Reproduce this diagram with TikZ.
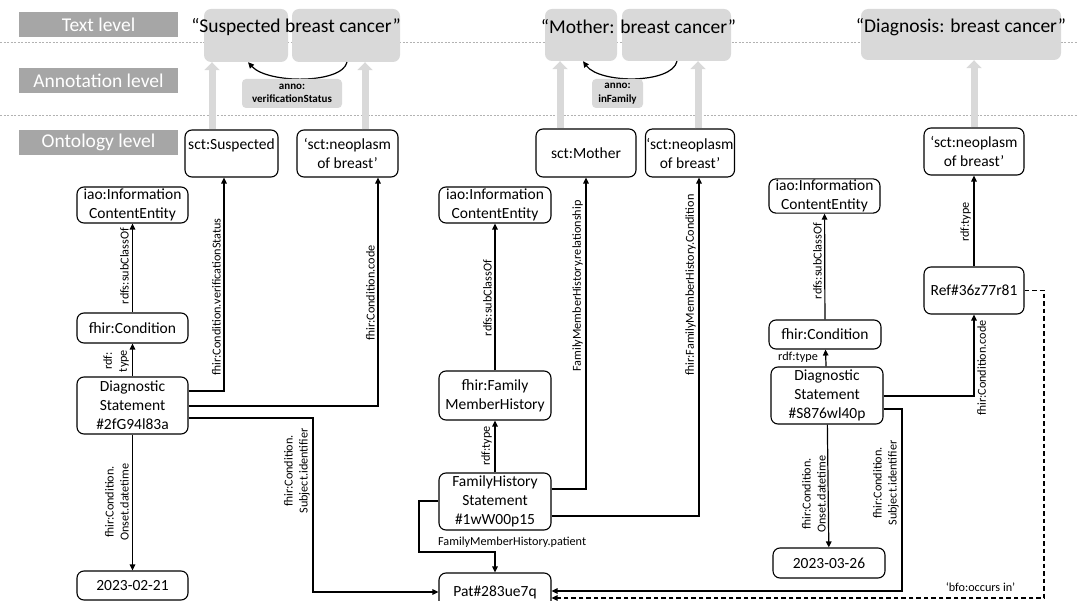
\documentclass[tikz,border=0pt]{standalone}
\usepackage{fontspec}
\setmainfont{Carlito}
\usetikzlibrary{arrows.meta,calc}

\definecolor{lvlgrey}{HTML}{A6A6A6}
\definecolor{txtgrey}{HTML}{D9D9D9}

\tikzset{
  obox/.style={draw, rounded corners=7pt, line width=1.1pt, fill=white, align=center, inner sep=1pt, font=\fontsize{15.5}{19}\selectfont},
  tbox/.style={fill=txtgrey, rounded corners=7pt, inner sep=0pt},
  lvl/.style={fill=lvlgrey, text=white, minimum width=159pt, minimum height=25pt, inner sep=0pt, font=\fontsize{19.5}{22}\selectfont},
  title/.style={font=\fontsize{19.5}{22}\selectfont, inner sep=0pt},
  anno/.style={fill=txtgrey, rounded corners=4pt, align=center, inner sep=0pt, font=\fontsize{11}{13.5}\selectfont\bfseries},
  lbl/.style={font=\fontsize{12.2}{15}\selectfont, align=center, inner sep=1pt},
  arr/.style={line width=1.2pt, -{Triangle[length=6pt,width=5.5pt]}},
  uparr/.style={line width=7pt, draw=txtgrey, -{Triangle[length=8pt,width=15pt]}},
  lvlline/.style={gray!60, line width=0.6pt, dash pattern=on 2pt off 1.5pt},
  refline/.style={dash pattern=on 4.5pt off 3pt},
}

\begin{document}
\begin{tikzpicture}[x=1pt, y=-1pt]
    \path [use as bounding box, clip] (0,0) rectangle (1078,601);

    % Levels
    \draw [lvlline] (0,42) -- (1078,42);
    \draw [lvlline] (0,115) -- (1078,115);
    \node [lvl] (lvtext) at (98.5,24.5) {Text level};
    \node [lvl] (lvanno) at (98.5,80.5) {Annotation level};
    \node [lvl] (lvonto) at (98.5,142.5) {Ontology level};

    % Text level
    \node [tbox, minimum width=84pt, minimum height=53pt] (tsusp) at (246,35.5) {};
    \node [tbox, minimum width=108pt, minimum height=53pt] (tbreastA) at (346,35.5) {};
    \node [tbox, minimum width=72pt, minimum height=52pt] (tmother) at (581,35) {};
    \node [tbox, minimum width=109pt, minimum height=52pt] (tbreastB) at (676.5,35) {};
    \node [tbox, minimum width=200pt, minimum height=51pt] (tdiag) at (961,34.5) {};
    \node [title] (ttlA) at (296,27) {“Suspected breast cancer”};
    \node [title] (ttlB) at (638.5,27) {“Mother: breast cancer”};
    \node [title] (ttlC) at (961,27) {“Diagnosis: breast cancer”};

    % Annotation level
    \draw [arr] (tbreastA.south -| 347,0) .. controls (342,84) and (268,84) .. (tsusp.south -| 248,0);
    \node [anno, minimum width=100pt, minimum height=29pt] (annoA) at (292,93.5) {anno:\\verificationStatus};
    \draw [arr] (tbreastB.south -| 677,0) .. controls (672,84) and (600,84) .. (tmother.south -| 583,0);
    \node [anno, minimum width=51pt, minimum height=29pt] (annoB) at (617.5,93.5) {anno:\\inFamily};

    % Ontology level
    \node [obox, minimum width=93pt, minimum height=47pt] (susp) at (231.5,153.5) {sct:Suspected\\\mbox{}};
    \node [obox, minimum width=101pt, minimum height=47pt] (neoA) at (347.5,153.5) {‘sct:neoplasm\\of breast’};
    \node [obox, minimum width=100pt, minimum height=48pt] (mother) at (586,153) {sct:Mother};
    \node [obox, minimum width=86pt, minimum height=48pt] (neoB) at (690,153) {‘sct:neoplasm\\of breast’};
    \node [obox, minimum width=100pt, minimum height=47pt] (neoC) at (974,151.5) {‘sct:neoplasm\\of breast’};

    \draw [uparr] (susp.north -| 212,0) -- (tsusp.south -| 212,0);
    \draw [uparr] (neoA.north -| 365,0) -- (tbreastA.south -| 365,0);
    \draw [uparr] (mother.north -| 560,0) -- (tmother.south -| 560,0);
    \draw [uparr] (neoB.north -| 698,0) -- (tbreastB.south -| 698,0);
    \draw [uparr] (neoC.north -| 974,0) -- (tdiag.south -| 974,0);

    % Suspected condition
    \node [obox, minimum width=111pt, minimum height=36pt] (iaoA) at (132.5,205) {iao:Information\\ContentEntity};
    \node [obox, minimum width=111pt, minimum height=30pt] (condA) at (132.5,328) {fhir:Condition};
    \node [obox, minimum width=111pt, minimum height=57pt] (diagA) at (132.5,405.5) {Diagnostic\\Statement\\\#2fG94l83a};
    \node [obox, minimum width=111pt, minimum height=29pt] (dateA) at (132.5,585.5) {2023-02-21};

    \draw [arr] (condA) -- (iaoA);
    \draw [arr] (diagA) -- (condA);
    \draw [arr] (diagA) -- (dateA);
    \draw [arr] (diagA.east |- 0,391) -| (susp.south -| 224,0);
    \draw [arr] (diagA.east |- 0,406) -| (neoA.south -| 378,0);

    \node [lbl, rotate=90, anchor=south] (lsubA) at (130,266) {rdfs:subClassOf};
    \node [lbl, rotate=90, anchor=south] (ltypeA) at (130,361) {rdf:\\type};
    \node [lbl, rotate=90, anchor=south] (lonsetA) at (130,502) {fhir:Condition.\\Onset.datetime};
    \node [lbl, rotate=90, anchor=south] (lverA) at (222,297) {fhir:Condition.verificationStatus};
    \node [lbl, rotate=90, anchor=south] (lcodeA) at (376,293) {fhir:Condition.code};
    \node [lbl, rotate=90, anchor=south] (lsbjA) at (311,471) {fhir:Condition.\\Subject.identifier};

    % Family history
    \node [obox, minimum width=112pt, minimum height=36pt] (iaoB) at (495,205) {iao:Information\\ContentEntity};
    \node [obox, minimum width=112pt, minimum height=49pt] (fmh) at (495,395.5) {fhir:Family\\MemberHistory};
    \node [obox, minimum width=112pt, minimum height=57pt] (fhs) at (495,501.5) {FamilyHistory\\Statement\\\#1wW00p15};
    \node [obox, minimum width=112pt, minimum height=38pt] (pat) at (495,592) {Pat\#283ue7q};

    \draw [arr] (fmh) -- (iaoB);
    \draw [arr] (fhs) -- (fmh);
    \draw [arr] (fhs.east |- 0,489) -| (mother.south);
    \draw [arr] (fhs.east |- 0,516) -| (neoB.south -| 699,0);
    \draw [arr] (fhs.west |- 0,501) -- (419,501) -- (419,552) -| (pat.north);
    \draw [arr] (diagA.east |- 0,418) -| (313,592) -- (pat.west |- 0,592);

    \node [lbl, rotate=90, anchor=south] (lsubB) at (493,298) {rdfs:subClassOf};
    \node [lbl, rotate=90, anchor=south] (ltypeB) at (493,446) {rdf:type};
    \node [lbl, rotate=90, anchor=south] (lrel) at (584,286) {FamilyMemberHistory.relationship};
    \node [lbl, rotate=90, anchor=south] (lcond) at (697,285) {fhir:FamilyMemberHistory.Condition};
    \node [lbl, anchor=west] (lpat) at (437,542) {FamilyMemberHistory.patient};

    % Diagnosis
    \node [obox, minimum width=111pt, minimum height=34pt] (iaoC) at (824.5,196) {iao:Information\\ContentEntity};
    \node [obox, minimum width=112pt, minimum height=29pt] (condC) at (825,334.5) {fhir:Condition};
    \node [obox, minimum width=112pt, minimum height=57pt] (diagC) at (827,395.5) {Diagnostic\\Statement\\\#S876wl40p};
    \node [obox, minimum width=112pt, minimum height=30pt] (dateC) at (829,563) {2023-03-26};
    \node [obox, minimum width=100pt, minimum height=47pt] (ref) at (974,290.5) {Ref\#36z77r81};

    \draw [arr] (condC) -- (iaoC);
    \draw [arr] (diagC) -- (condC);
    \draw [arr] (diagC) -- (dateC);
    \draw [arr] (ref) -- (neoC);
    \draw [arr] (diagC.east |- 0,396) -| (ref.south);
    \draw [arr] (diagC.east |- 0,409) -| (902,591) -- (pat.east |- 0,591);
    \draw [arr, refline] (ref.east) -| (1044,598) -- (pat.east |- 0,598);

    \node [lbl, rotate=90, anchor=south] (lsubC) at (823,261) {rdfs:subClassOf};
    \node [lbl, anchor=east] (ltypeC) at (819,357) {rdf:type};
    \node [lbl, rotate=90, anchor=south] (lonsetC) at (827,494) {fhir:Condition.\\Onset.datetime};
    \node [lbl, rotate=90, anchor=south] (lsbjC) at (900,483) {fhir:Condition.\\Subject.identifier};
    \node [lbl, rotate=90, anchor=south] (ltypeR) at (972,222) {rdf:type};
    \node [lbl, rotate=90, anchor=north] (lcodeC) at (976,368) {fhir:Condition.code};
    \node [lbl] (locc) at (980.5,587) {‘bfo:occurs in’};
\end{tikzpicture}
\end{document}
